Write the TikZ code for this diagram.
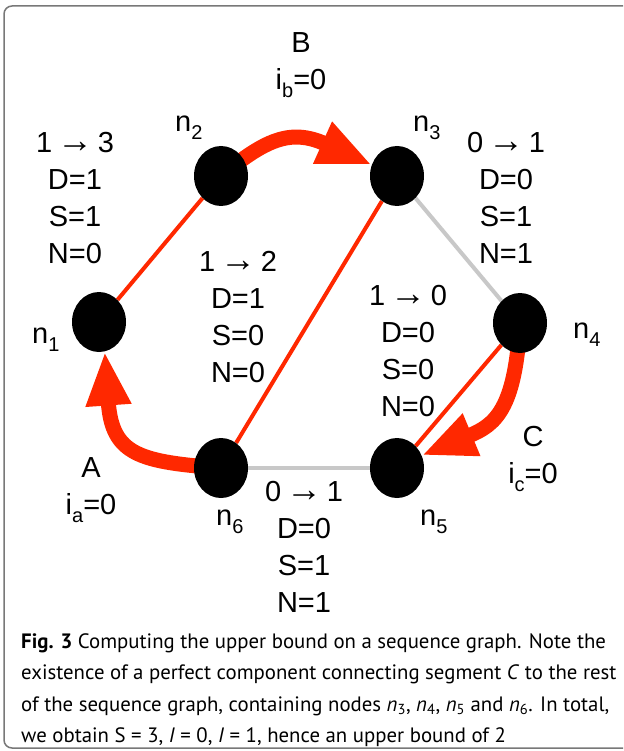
\documentclass[tikz,border=0pt]{standalone}
\usepackage{fontspec}
\setmainfont{PT Sans}
\newfontfamily\helv{Liberation Sans}
\usetikzlibrary{arrows.meta,shapes.geometric,backgrounds}

\definecolor{edgered}{RGB}{255,40,0}
\definecolor{edgegray}{RGB}{200,200,200}
\definecolor{framegray}{RGB}{120,120,120}

\newcommand{\lowsub}[1]{\raisebox{-8pt}{\fontsize{20}{20}\selectfont #1}}
\newcommand{\goesto}{\,{\fontsize{36}{37}\selectfont →}\,}

\begin{document}
\begin{tikzpicture}[x=1pt,y=-1pt,
  vertex/.style={ellipse, fill=black, minimum width=54pt, minimum height=60pt, inner sep=0pt},
  stats/.style={anchor=north, align=center, inner sep=0pt, font=\helv\fontsize{29}{37}\selectfont},
  lbl/.style={anchor=base west, inner sep=0pt, font=\helv\fontsize{29}{37}\selectfont},
  tree/.style={edgered, line width=4pt},
  loose/.style={edgegray, line width=4pt},
  segment/.style={edgered, line width=15pt, -{Triangle[length=54pt,width=42pt]}}
]
\useasboundingbox (0,0) rectangle (623,751);

% Frame
\begin{scope}
  \clip (0,0) rectangle (623,751);
  \draw[framegray, line width=1.5pt, rounded corners=8pt] (4,6) rectangle (640,748);
\end{scope}

% Vertices
\node[vertex] (n1) at (99,322) {};
\node[vertex] (n2) at (221,176) {};
\node[vertex] (n3) at (397,176) {};
\node[vertex] (n4) at (520,323) {};
\node[vertex] (n5) at (397,468) {};
\node[vertex] (n6) at (221,468) {};

% Vertex names
\node[lbl] (l1) at (32,343) {n\lowsub{1}};
\node[lbl] (l2) at (175,132) {n\lowsub{2}};
\node[lbl] (l3) at (413,132) {n\lowsub{3}};
\node[lbl] (l4) at (573,338) {n\lowsub{4}};
\node[lbl] (l5) at (420,525) {n\lowsub{5}};
\node[lbl] (l6) at (216,525) {n\lowsub{6}};

% Counts
\node[stats] (s1) at (75,132) {1\goesto3\\D=1\\S=1\\N=0};
\node[stats] (s2) at (506,132) {0\goesto1\\D=0\\S=1\\N=1};
\node[stats] (s3) at (238,251) {1\goesto2\\D=1\\S=0\\N=0};
\node[stats] (s4) at (408,285) {1\goesto0\\D=0\\S=0\\N=0};
\node[stats] (s5) at (304,481) {0\goesto1\\D=0\\S=1\\N=1};

% Segments
\node[stats] (segA) at (91,457) {A\\i\lowsub{a}=0};
\node[stats] (segB) at (301,32) {B\\i\lowsub{b}=0};
\node[stats] (segC) at (533,426) {C\\i\lowsub{c}=0};

% Edges
\begin{scope}[on background layer]
  \draw[tree] (n1) -- (n2);
  \draw[tree] (n3) -- (n6);
  \draw[tree] (n4) -- (n5);
  \draw[loose] (n3) -- (n4);
  \draw[loose] (n5) -- (n6);
  \draw[segment] (n6.center) .. controls (140,462) and (112,455) .. (n1.281);
  \draw[segment] (n2.center) .. controls (265,140) and (290,128) .. (n3.156);
  \draw[segment] (n4.center) .. controls (515,410) and (495,425) .. (n5.27);
\end{scope}

% Caption
\node[anchor=north west, align=left, inner sep=0pt, font=\fontsize{20.8}{31.5}\selectfont] (caption) at (21,633)
  {\textbf{Fig. 3} Computing the upper bound on a sequence graph. Note the\\
   existence of a perfect component connecting segment \textit{C} to the rest\\
   of the sequence graph, containing nodes \textit{n}\textsubscript{3}, \textit{n}\textsubscript{4}, \textit{n}\textsubscript{5} and \textit{n}\textsubscript{6}. In total,\\
   we obtain S = 3, \textit{I} = 0, \textit{I} = 1, hence an upper bound of 2};
\end{tikzpicture}
\end{document}
